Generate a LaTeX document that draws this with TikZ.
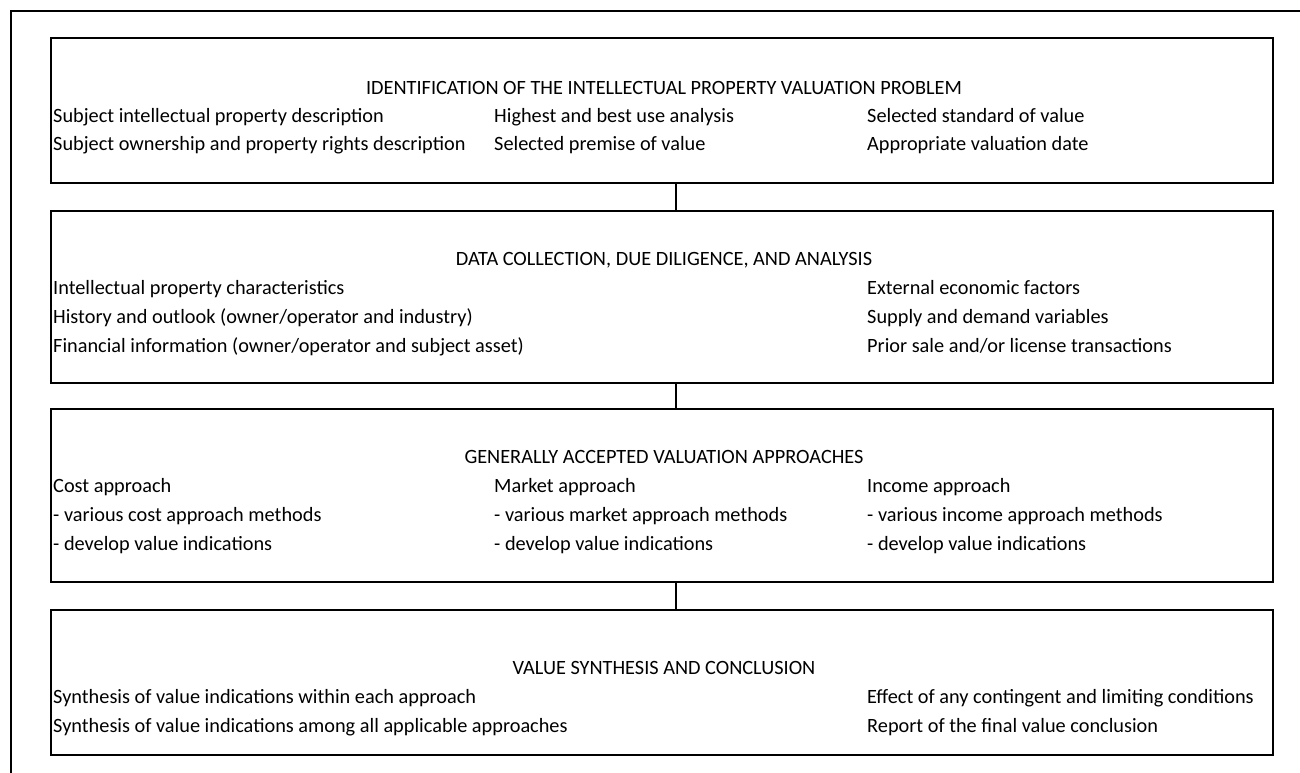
\documentclass[tikz,border=0pt]{standalone}
\usepackage{fontspec}
\setmainfont{Carlito}
\usepackage{tikz}
\usetikzlibrary{positioning}

\tikzset{
  stagebox/.style={draw, line width=2pt, minimum width=1222pt, inner sep=0pt},
  celltext/.style={inner sep=0pt, anchor=base west, font=\fontsize{20.3}{24}\selectfont},
  headtext/.style={inner sep=0pt, anchor=base, font=\fontsize{20.3}{24}\selectfont},
}

\begin{document}
\begin{tikzpicture}[x=1pt,y=-1pt]
\useasboundingbox (0,0) rectangle (1300,773);
% frame (only top and left edges show)
\draw[line width=2pt] (11,773) -- (11,11) -- (1300,11);

% the four stages
\node[stagebox, minimum height=145pt] (ident) at (662,110.5) {};
\node[stagebox, minimum height=172pt] (data) at (662,297) {};
\node[stagebox, minimum height=173pt] (approach) at (662,495.5) {};
\node[stagebox, minimum height=145pt] (synth) at (662,682.5) {};

% links between stages
\draw[line width=2pt] ([xshift=14pt]ident.south) -- ([xshift=14pt]data.north);
\draw[line width=2pt] ([xshift=14pt]data.south) -- ([xshift=14pt]approach.north);
\draw[line width=2pt] ([xshift=14pt]approach.south) -- ([xshift=14pt]synth.north);

% stage 1
\node[headtext] (identhead) at (664,95) {IDENTIFICATION OF THE INTELLECTUAL PROPERTY VALUATION PROBLEM};
\node[celltext] (identa) at (53,122) {Subject intellectual property description};
\node[celltext] (identb) at (53,150) {Subject ownership and property rights description};
\node[celltext] (identc) at (494,122) {Highest and best use analysis};
\node[celltext] (identd) at (494,150) {Selected premise of value};
\node[celltext] (idente) at (867,122) {Selected standard of value};
\node[celltext] (identf) at (867,150) {Appropriate valuation date};

% stage 2
\node[headtext] (datahead) at (664,265) {DATA COLLECTION, DUE DILIGENCE, AND ANALYSIS};
\node[celltext] (dataa) at (53,294) {Intellectual property characteristics};
\node[celltext] (datab) at (53,323) {History and outlook (owner/operator and industry)};
\node[celltext] (datac) at (53,352) {Financial information (owner/operator and subject asset)};
\node[celltext] (datad) at (867,294) {External economic factors};
\node[celltext] (datae) at (867,323) {Supply and demand variables};
\node[celltext] (dataf) at (867,352) {Prior sale and/or license transactions};

% stage 3
\node[headtext] (apphead) at (664,463) {GENERALLY ACCEPTED VALUATION APPROACHES};
\node[celltext] (costa) at (53,492) {Cost approach};
\node[celltext] (costb) at (53,521) {- various cost approach methods};
\node[celltext] (costc) at (53,550) {- develop value indications};
\node[celltext] (marka) at (494,492) {Market approach};
\node[celltext] (markb) at (494,521) {- various market approach methods};
\node[celltext] (markc) at (494,550) {- develop value indications};
\node[celltext] (inca) at (867,492) {Income approach};
\node[celltext] (incb) at (867,521) {- various income approach methods};
\node[celltext] (incc) at (867,550) {- develop value indications};

% stage 4
\node[headtext] (synthhead) at (664,674) {VALUE SYNTHESIS AND CONCLUSION};
\node[celltext] (syntha) at (53,703) {Synthesis of value indications within each approach};
\node[celltext] (synthb) at (53,732) {Synthesis of value indications among all applicable approaches};
\node[celltext] (synthc) at (867,703) {Effect of any contingent and limiting conditions};
\node[celltext] (synthd) at (867,732) {Report of the final value conclusion};
\end{tikzpicture}
\end{document}
